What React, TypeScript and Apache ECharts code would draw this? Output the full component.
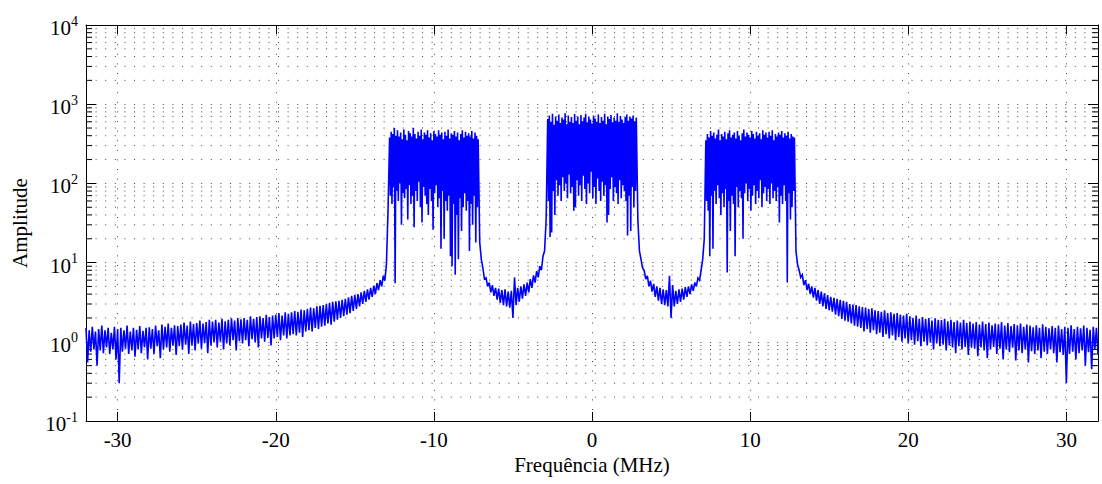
import React, { useEffect, useRef } from 'react';
import * as echarts from 'echarts';

// ---- axis settings ----
const X_MIN = -32;
const X_MAX = 32;
const Y_MIN = 0.1;
const Y_MAX = 10000;

// minor (2..9 per decade) gridline values
const minorTickValues = [
  0.2, 0.3, 0.4, 0.5, 0.6, 0.7, 0.8, 0.9,
  2, 3, 4, 5, 6, 7, 8, 9,
  20, 30, 40, 50, 60, 70, 80, 90,
  200, 300, 400, 500, 600, 700, 800, 900,
  2000, 3000, 4000, 5000, 6000, 7000, 8000, 9000,
];

// ---- spectrum data (amplitude) ----
// start frequency (MHz) and sample spacing (MHz) of each segment
const segStarts = [-32.0, -12.8, -7.1, -2.8, 2.9, 7.2, 12.9];
const segSteps = [0.1, 0.05, 0.1, 0.05, 0.1, 0.05, 0.1];

// -32.0 .. -12.9 (step 0.1)
const floorLeft = [
  1.5, 0.55, 1.4, 0.75, 1.55, 0.8, 1.35, 0.5, 1.45, 0.78,
  1.6, 0.72, 1.4, 0.85, 1.5, 0.7, 1.3, 0.8, 1.55, 0.6,
  1.45, 0.3, 1.5, 0.75, 1.4, 0.82, 1.6, 0.7, 1.35, 0.78,
  1.5, 0.65, 1.42, 0.8, 1.58, 0.72, 1.38, 0.85, 1.5, 0.6,
  1.52, 0.82, 1.45, 0.7, 1.6, 0.88, 1.4, 0.62, 1.65, 0.8,
  1.55, 0.85, 1.7, 0.75, 1.5, 0.9, 1.62, 0.68, 1.58, 0.88,
  1.65, 0.8, 1.75, 0.92, 1.6, 0.7, 1.8, 0.9, 1.68, 0.78,
  1.72, 0.95, 1.85, 0.82, 1.7, 0.96, 1.78, 0.72, 1.9, 0.9,
  1.8, 0.98, 1.9, 0.85, 1.75, 1.0, 1.95, 0.8, 1.82, 0.95,
  1.9, 0.9, 1.98, 1.05, 1.85, 0.78, 2.0, 1.02, 1.92, 0.95,
  2.0, 1.05, 1.9, 0.88, 2.1, 1.08, 1.95, 0.98, 2.05, 0.85,
  2.1, 1.1, 2.0, 1.0, 2.2, 1.12, 2.05, 0.9, 2.15, 1.1,
  2.2, 1.15, 2.3, 1.05, 2.15, 1.2, 2.35, 1.1, 2.25, 1.2,
  2.35, 1.25, 2.45, 1.2, 2.4, 1.3, 2.55, 1.15, 2.5, 1.35,
  2.6, 1.4, 2.7, 1.35, 2.65, 1.5, 2.8, 1.45, 2.85, 1.55,
  2.9, 1.6, 3.0, 1.7, 3.1, 1.65, 3.2, 1.8, 3.25, 1.9,
  3.3, 2.0, 3.4, 2.1, 3.5, 2.2, 3.65, 2.3, 3.8, 2.45,
  3.9, 2.6, 4.0, 2.8, 4.2, 3.0, 4.4, 3.2, 4.6, 3.4,
  4.8, 3.7, 5.1, 4.0, 5.5, 4.5, 6.0, 5.0, 6.8, 5.9,
  9.5, 45,
];

// -12.80 .. -7.20 (step 0.05)
const bandLeft = [
  380, 70, 450, 55, 420, 90, 500, 5.5, 400, 80,
  470, 60, 390, 100, 440, 30, 360, 75, 480, 65,
  410, 85, 350, 35, 460, 95, 430, 55, 390, 70,
  500, 28, 420, 80, 370, 60, 450, 105, 400, 50,
  480, 32, 360, 90, 440, 70, 410, 55, 470, 40,
  380, 85, 430, 60, 350, 26, 460, 75, 420, 95,
  390, 50, 470, 65, 410, 15, 440, 80, 360, 20,
  450, 60, 400, 45, 480, 70, 370, 12, 430, 9,
  410, 55, 460, 7, 390, 40, 440, 11, 350, 65,
  420, 25, 470, 50, 380, 75, 450, 45, 400, 60,
  430, 14, 390, 55, 460, 30, 370, 70, 440, 18,
  400, 50, 360,
];

// -7.1 .. -2.9 (step 0.1)
const gapLeft = [
  18, 11,
  8.5, 6.2, 6.4, 5.0, 5.6, 4.2, 5.2, 3.8, 4.8, 3.4,
  4.7, 3.1, 4.5, 2.9, 4.6, 2.8, 4.3, 2.7, 4.4, 2.0,
  6.5, 2.9, 4.8, 3.2, 5.0, 3.5, 5.3, 3.8, 5.6, 4.2,
  6.2, 4.8, 6.9, 5.6, 7.8, 6.5, 9.0, 8.0, 12, 14,
  35,
];

// -2.80 .. 2.80 (step 0.05)
const bandCenter = [
  650, 60, 720, 21, 600, 24, 760, 80, 550, 40,
  700, 110, 620, 70, 740, 95, 580, 60, 680, 120,
  640, 80, 770, 100, 560, 65, 720, 130, 600, 75,
  690, 90, 580, 45, 750, 50, 620, 110, 700, 70,
  560, 95, 730, 60, 610, 125, 680, 85, 760, 55,
  590, 100, 700, 75, 640, 140, 570, 65, 720, 90,
  660, 55, 600, 115, 740, 80, 580, 60, 690, 105,
  620, 70, 760, 95, 560, 32, 700, 40, 650, 85,
  730, 120, 590, 60, 680, 90, 620, 75, 770, 55,
  600, 110, 710, 65, 640, 95, 580, 80, 690, 60,
  740, 22, 620, 70, 700, 25, 660, 90, 720, 50,
  610, 80, 680,
];

// 2.9 .. 7.1 (step 0.1)
const gapRight = [
  35, 14, 11, 8.5, 8.0, 6.2, 6.8, 5.0, 5.9, 4.3,
  5.4, 3.7, 5.0, 3.3, 4.8, 3.0, 4.6, 2.9, 4.5, 2.8,
  6.8, 2.0, 5.2, 2.8, 4.4, 3.0, 4.6, 3.2, 4.7, 3.4,
  4.9, 3.7, 5.0, 4.0, 5.3, 4.4, 5.6, 5.0, 6.4, 6.0,
  8.0, 11, 20,
];

// 7.20 .. 12.80 (step 0.05)
const bandRight = [
  350, 60, 420, 45, 380, 12, 460, 70, 400, 15,
  440, 80, 370, 55, 410, 95, 480, 65, 350, 40,
  420, 75, 390, 50, 450, 85, 360, 7.5, 430, 60,
  470, 25, 380, 70, 410, 55, 440, 12, 370, 90,
  460, 50, 400, 80, 350, 65, 430, 20, 480, 75,
  390, 100, 440, 60, 410, 85, 380, 45, 460, 70,
  420, 95, 370, 55, 450, 80, 400, 65, 430, 110,
  360, 50, 470, 75, 410, 90, 440, 60, 380, 85,
  450, 55, 400, 100, 470, 65, 350, 80, 420, 60,
  390, 90, 440, 32, 410, 70, 460, 55, 380, 95,
  430, 60, 400, 5.6, 450, 75, 370, 35, 420, 50,
  390, 80, 380,
];

// 12.9 .. 32.0 (step 0.1)
const floorRight = [
  14, 9.5, 8.0, 6.5, 7.0, 5.2, 6.0, 4.5, 5.4, 4.0, 5.0, 3.6,
  4.8, 3.3, 4.5, 3.0, 4.3, 2.8, 4.1, 2.6, 3.9, 2.5,
  3.7, 2.4, 3.6, 2.2, 3.5, 2.1, 3.4, 1.95, 3.3, 1.85,
  3.2, 1.8, 3.0, 1.7, 2.95, 1.6, 2.9, 1.55, 2.8, 1.5,
  2.75, 1.35, 2.7, 1.45, 2.6, 1.3, 2.65, 1.4, 2.5, 1.25,
  2.45, 1.3, 2.4, 1.15, 2.5, 1.25, 2.3, 1.1, 2.35, 1.2,
  2.25, 1.05, 2.3, 1.15, 2.2, 1.0, 2.15, 1.1, 2.25, 0.95,
  2.1, 1.05, 2.0, 0.92, 2.15, 1.02, 1.95, 0.88, 2.05, 1.0,
  1.95, 0.9, 2.0, 0.98, 1.85, 0.8, 1.98, 0.95, 1.9, 0.88,
  1.88, 0.92, 1.95, 0.78, 1.82, 0.9, 1.9, 0.85, 1.78, 0.72,
  1.85, 0.88, 1.75, 0.8, 1.9, 0.86, 1.72, 0.68, 1.8, 0.84,
  1.7, 0.82, 1.78, 0.66, 1.65, 0.85, 1.8, 0.78, 1.68, 0.62,
  1.75, 0.8, 1.62, 0.86, 1.7, 0.7, 1.66, 0.82, 1.78, 0.6,
  1.6, 0.8, 1.72, 0.74, 1.58, 0.84, 1.68, 0.58, 1.62, 0.78,
  1.7, 0.72, 1.55, 0.8, 1.65, 0.55, 1.6, 0.76, 1.52, 0.7,
  1.62, 0.78, 1.5, 0.62, 1.66, 0.75, 1.55, 0.7, 1.48, 0.8,
  1.58, 0.72, 1.5, 0.55, 1.6, 0.74, 1.45, 0.68, 1.55, 0.3,
  1.5, 0.7, 1.62, 0.75, 1.45, 0.6, 1.55, 0.72, 1.48, 0.78,
  1.6, 0.5, 1.5, 0.74, 1.42, 0.45, 1.55, 0.8, 1.5, 0.7,
];

const segments = [floorLeft, bandLeft, gapLeft, bandCenter, gapRight, bandRight, floorRight];

const FONT = 'Liberation Serif';
const GRID_COLOR = '#444';
const GRID_DASH = [1, 8.6];

function buildSpectrum(): [number, number][] {
  const pts: [number, number][] = [];
  segments.forEach((vals, s) => {
    vals.forEach((v, i) => {
      const f = Math.round((segStarts[s] + i * segSteps[s]) * 100) / 100;
      pts.push([f, v]);
    });
  });
  return pts;
}

export default function App() {
  const ref = useRef<HTMLDivElement>(null);
  useEffect(() => {
    document.body.style.margin = '0';
    const chart = echarts.init(ref.current!, null, { renderer: 'svg' });
    const axisLineStyle = { color: '#000', width: 1 };
    const option: any = {
      animation: false,
      backgroundColor: '#fff',
      textStyle: { fontFamily: FONT },
      grid: { left: 86, right: 4, top: 25, bottom: 63, containLabel: false },
      xAxis: [
        {
          type: 'value',
          min: X_MIN,
          max: X_MAX,
          splitNumber: 6,
          name: 'Frequência (MHz)',
          nameLocation: 'middle',
          nameGap: 33,
          nameTextStyle: { fontFamily: FONT, fontSize: 21, color: '#000' },
          axisLine: { show: true, onZero: false, lineStyle: axisLineStyle },
          axisTick: { show: true, inside: true, length: 9, lineStyle: axisLineStyle },
          axisLabel: {
            fontFamily: FONT,
            fontSize: 21,
            color: '#000',
            margin: 8,
            formatter: (v: number) => (Math.abs(v % 10) < 1e-9 ? String(v) : ''),
          },
          splitLine: { show: true, lineStyle: { color: GRID_COLOR, type: GRID_DASH, width: 1 } },
        },
        {
          type: 'value',
          position: 'top',
          min: X_MIN,
          max: X_MAX,
          splitNumber: 6,
          axisLine: { show: true, onZero: false, lineStyle: axisLineStyle },
          axisTick: { show: true, inside: true, length: 9, lineStyle: axisLineStyle },
          axisLabel: { show: false },
          splitLine: { show: false },
        },
      ],
      yAxis: [
        {
          type: 'log',
          logBase: 10,
          min: Y_MIN,
          max: Y_MAX,
          name: 'Amplitude',
          nameLocation: 'middle',
          nameGap: 56,
          nameTextStyle: { fontFamily: FONT, fontSize: 21, color: '#000' },
          axisLine: { show: true, onZero: false, lineStyle: axisLineStyle },
          axisTick: { show: true, inside: true, length: 10, lineStyle: axisLineStyle },
          axisLabel: {
            fontFamily: FONT,
            color: '#000',
            margin: 8,
            formatter: (v: number) => `{b|10}{e|${Math.round(Math.log10(v))}}`,
            rich: {
              b: { fontFamily: FONT, fontSize: 21, color: '#000', padding: [6, 0, 0, 0] },
              e: { fontFamily: FONT, fontSize: 14, color: '#000', padding: [0, 0, 8, 0] },
            },
          },
          splitLine: { show: true, lineStyle: { color: GRID_COLOR, type: GRID_DASH, width: 1 } },
        },
        {
          type: 'log',
          logBase: 10,
          position: 'right',
          min: Y_MIN,
          max: Y_MAX,
          axisLine: { show: true, onZero: false, lineStyle: axisLineStyle },
          axisTick: { show: true, inside: true, length: 10, lineStyle: axisLineStyle },
          axisLabel: { show: false },
          splitLine: { show: false },
        },
      ],
      series: [
        {
          type: 'custom',
          xAxisIndex: 0,
          yAxisIndex: 0,
          silent: true,
          z: 1,
          data: minorTickValues.map((v) => [X_MIN, v]),
          encode: { x: 0, y: 1 },
          renderItem: (_params: any, api: any) => {
            const v = api.value(1);
            const l = api.coord([X_MIN, v]);
            const r = api.coord([X_MAX, v]);
            return {
              type: 'group',
              children: [
                {
                  type: 'line',
                  shape: { x1: l[0], y1: l[1], x2: r[0], y2: r[1] },
                  style: { stroke: GRID_COLOR, lineWidth: 1, lineDash: GRID_DASH },
                },
                {
                  type: 'line',
                  shape: { x1: l[0], y1: l[1], x2: l[0] + 6, y2: l[1] },
                  style: { stroke: '#000', lineWidth: 1 },
                },
                {
                  type: 'line',
                  shape: { x1: r[0] - 6, y1: r[1], x2: r[0], y2: r[1] },
                  style: { stroke: '#000', lineWidth: 1 },
                },
              ],
            };
          },
        },
        {
          type: 'line',
          xAxisIndex: 0,
          yAxisIndex: 0,
          z: 3,
          data: buildSpectrum(),
          showSymbol: false,
          symbol: 'none',
          lineStyle: { color: '#0000ff', width: 1.6, join: 'miter', miterLimit: 3 },
          itemStyle: { color: '#0000ff' },
        },
      ],
    };
    chart.setOption(option);
    return () => chart.dispose();
  }, []);
  return <div ref={ref} style={{ width: 1102, height: 484 }} />;
}
